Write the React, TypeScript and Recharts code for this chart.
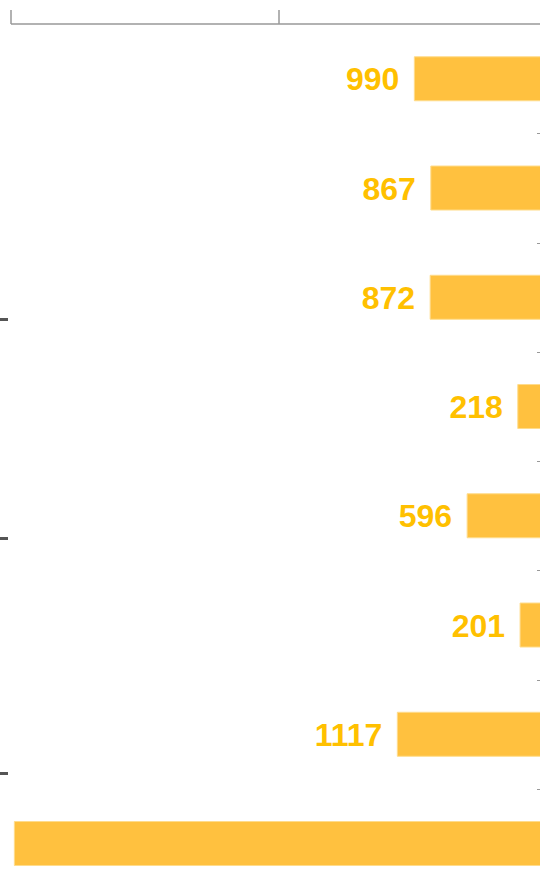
import React from 'react';
import { BarChart, Bar, XAxis, YAxis, LabelList } from 'recharts';

const categories = ['Item 1', 'Item 2', 'Item 3', 'Item 4', 'Item 5', 'Item 6', 'Item 7', 'Item 8'];
const values = [990, 867, 872, 218, 596, 201, 1117, 3975];
const xTicks = [0, 2000, 4000];

const data = categories.map((name, i) => ({ name, value: values[i] }));

const CHART_H = 898;
const AXIS_H = 24;
const BAND = (CHART_H - AXIS_H) / categories.length;
const LABEL_SIZE = 32;

const BarValueLabel = (props: any) => {
  const { x, y, width, height, value } = props;
  const left = Math.min(x, x + width);
  const cy = y + height / 2;
  // the biggest bar's label sits left of the visible area
  if (left - 15 < 60) return null;
  return (
    <text
      x={left - 15}
      y={cy + LABEL_SIZE * 0.36}
      textAnchor="end"
      fill="#FFC000"
      fontSize={LABEL_SIZE}
      fontWeight="bold"
      fontFamily="'Liberation Sans', Arial, sans-serif"
    >
      {value}
    </text>
  );
};

// small grey mark on the baseline between this bar's band and the next one
const BoundaryMark = (props: any) => {
  const { x, y, width, height, index } = props;
  if (index == null || index >= categories.length - 1) return null;
  const base = Math.max(x, x + width);
  const by = Math.round(y + height / 2 + BAND / 2) + 0.5;
  return <line x1={base - 10} x2={base} y1={by} y2={by} stroke="#999" strokeWidth={1} />;
};

const noTickLabel = () => <g />;

const sideMarks = [319.5, 538, 773];

const App: React.FC = () => {
  return (
    <div
      style={{
        position: 'fixed',
        left: 0,
        top: 0,
        width: 540,
        height: 894,
        overflow: 'hidden',
        background: '#fff',
      }}
    >
      <BarChart
        width={547}
        height={CHART_H}
        data={data}
        layout="vertical"
        margin={{ top: 0, right: 0, bottom: 0, left: 11 }}
        barCategoryGap="30%"
      >
        <XAxis
          type="number"
          orientation="top"
          reversed
          domain={[0, 4000]}
          ticks={xTicks}
          tick={noTickLabel}
          tickSize={14}
          height={AXIS_H}
          stroke="#999"
          strokeWidth={1.5}
        />
        <YAxis type="category" dataKey="name" hide width={0} />
        <Bar dataKey="value" fill="#FFC13F" stroke="#FFDC8C" strokeWidth={1} isAnimationActive={false}>
          <LabelList dataKey="value" content={<BarValueLabel />} />
          <LabelList dataKey="value" content={<BoundaryMark />} />
        </Bar>
      </BarChart>
      {sideMarks.map((y) => (
        <div
          key={y}
          style={{ position: 'absolute', left: 0, top: y - 1.5, width: 8, height: 3, background: '#555' }}
        />
      ))}
    </div>
  );
};

export default App;
